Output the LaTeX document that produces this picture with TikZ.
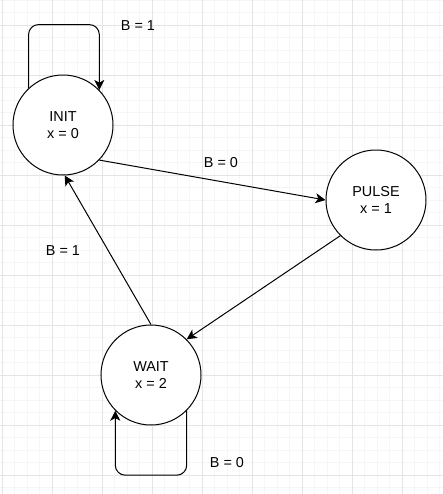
\documentclass[tikz,border=0pt]{standalone}
\usepackage{fontspec}
\setmainfont{Liberation Sans}
\usetikzlibrary{arrows.meta}
\definecolor{gridminor}{HTML}{F6F6F6}
\definecolor{gridmajor}{HTML}{E4E4E4}
\tikzset{
  state/.style={circle, draw=black, line width=0.75pt, fill=white,
    minimum size=75pt, inner sep=0pt, align=center, font=\fontsize{10.8}{13}\selectfont},
  edge/.style={draw=black, line width=0.75pt,
    -{Stealth[length=7.5pt, width=7.5pt, inset=2pt]}},
  lbl/.style={font=\fontsize{10.8}{13}\selectfont, inner sep=0pt},
}
\begin{document}
\begin{tikzpicture}[x=0.75pt, y=-0.75pt]
  % canvas and background grid
  \fill[white] (0,0) rectangle (443,494);
  \useasboundingbox (0,0) rectangle (443,494);
  \foreach \gx in {2,14.5,...,443} \draw[gridminor, line width=0.75pt] (\gx,0) -- (\gx,494);
  \foreach \gy in {0,12.5,...,494} \draw[gridminor, line width=0.75pt] (0,\gy) -- (443,\gy);
  \foreach \gx in {2,52,...,402} \draw[gridmajor, line width=0.75pt] (\gx,0) -- (\gx,494);
  \foreach \gy in {25,75,...,475} \draw[gridmajor, line width=0.75pt] (0,\gy) -- (443,\gy);

  % states
  \node[state] (init)  at (63,125)  {INIT\\x = 0};
  \node[state] (pulse) at (376,200) {PULSE\\x = 1};
  \node[state] (wait)  at (151,375) {WAIT\\x = 2};

  % transitions
  \draw[edge, rounded corners=7.5pt] (init.133) -- ++(0,-63.5) -| (init.44);
  \draw[edge] (init.-44) -- (pulse.180);
  \draw[edge] (pulse.225) -- (wait.45);
  \draw[edge] (wait.90) -- (init.-88);
  \draw[edge, rounded corners=7.5pt] (wait.-45) -- ++(0,64.5) -| (wait.-135);

  % transition labels
  \node[lbl] (l1) at (138,26)  {B = 1};
  \node[lbl] (l2) at (221,163) {B = 0};
  \node[lbl] (l3) at (63,251)  {B = 1};
  \node[lbl] (l4) at (227,463) {B = 0};
\end{tikzpicture}
\end{document}
